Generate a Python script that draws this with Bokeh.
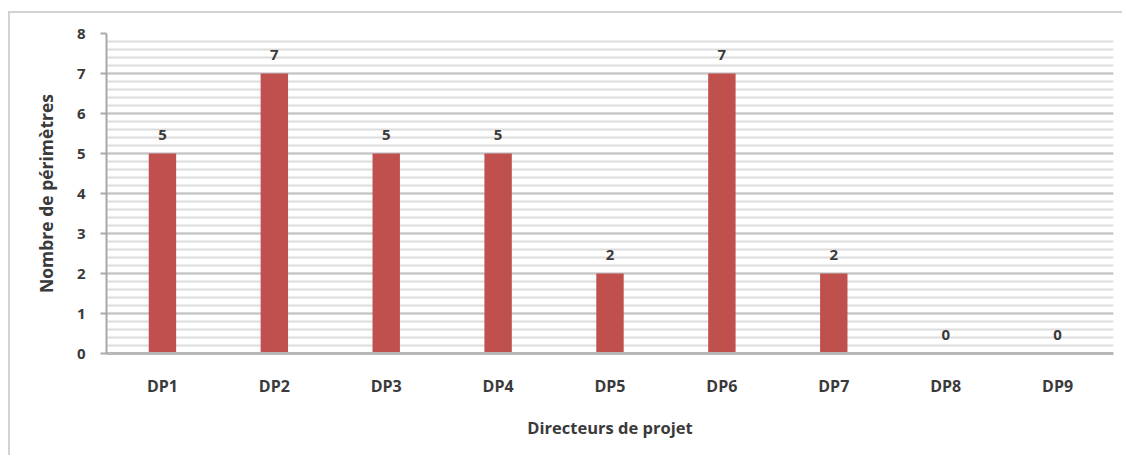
from bokeh.plotting import figure
from bokeh.models import ColumnDataSource, Range1d, SingleIntervalTicker, LabelSet
from bokeh.core.properties import value
from bokeh.embed import file_html
from bokeh.resources import INLINE

# Nombre de périmètres par directeur de projet
directeurs = ["DP1", "DP2", "DP3", "DP4", "DP5", "DP6", "DP7", "DP8", "DP9"]
perimetres = [5, 7, 5, 5, 2, 7, 2, 0, 0]
y_ticks = [0, 1, 2, 3, 4, 5, 6, 7, 8]

FONT = "Open Sans"
TXT = "#3a3a3a"
BAR = "#C0504D"

src = ColumnDataSource(dict(x=directeurs, y=perimetres, lbl=[str(v) for v in perimetres]))

p = figure(
    width=1114, height=444,
    x_range=directeurs, y_range=Range1d(0, 8),
    output_backend="svg", toolbar_location=None,
    min_border_left=96, min_border_right=11,
    min_border_top=20, min_border_bottom=104,
    background_fill_color="white", border_fill_color="white",
    margin=(11, 0, 0, 8),
    styles={"border-left": "2px solid #d2d2d2", "border-top": "2px solid #d2d2d2"},
)
p.outline_line_color = None
p.x_range.range_padding = 0

p.vbar(x="x", top="y", width=0.245, source=src, color=BAR, line_color=None)

labels = LabelSet(x="x", y="y", text="lbl", source=src, y_offset=14,
                  text_align="center", text_baseline="bottom",
                  text_font=value(FONT), text_font_size="15px",
                  text_font_style="bold", text_color=TXT)
p.add_layout(labels)

# y axis
p.yaxis.ticker = SingleIntervalTicker(interval=1, num_minor_ticks=5)
p.yaxis.major_label_overrides = {v: str(v) for v in y_ticks}
p.yaxis.axis_line_color = "#a8a8a8"
p.yaxis.axis_line_width = 2
p.yaxis.major_tick_line_color = "#a8a8a8"
p.yaxis.major_tick_line_width = 2
p.yaxis.major_tick_out = 6
p.yaxis.major_tick_in = 0
p.yaxis.minor_tick_line_color = None
p.yaxis.major_label_standoff = 15
p.yaxis.major_label_text_font = FONT
p.yaxis.major_label_text_font_size = "15px"
p.yaxis.major_label_text_font_style = "bold"
p.yaxis.major_label_text_color = TXT
p.yaxis.axis_label = "Nombre de périmètres"
p.yaxis.axis_label_text_font = FONT
p.yaxis.axis_label_text_font_size = "17.5px"
p.yaxis.axis_label_text_font_style = "bold"
p.yaxis.axis_label_text_color = TXT
p.yaxis.axis_label_standoff = 16

# x axis
p.xaxis.axis_line_color = "#b8b8b8"
p.xaxis.axis_line_width = 3
p.xaxis.major_tick_line_color = None
p.xaxis.minor_tick_line_color = None
p.xaxis.major_label_standoff = 15
p.xaxis.major_label_text_font = FONT
p.xaxis.major_label_text_font_size = "16px"
p.xaxis.major_label_text_font_style = "bold"
p.xaxis.major_label_text_color = TXT
p.xaxis.axis_label = "Directeurs de projet"
p.xaxis.axis_label_text_font = FONT
p.xaxis.axis_label_text_font_size = "16.5px"
p.xaxis.axis_label_text_font_style = "bold"
p.xaxis.axis_label_text_color = TXT
p.xaxis.axis_label_standoff = 16

# grid
p.xgrid.grid_line_color = None
p.ygrid.grid_line_color = "#c4c4c4"
p.ygrid.grid_line_width = 2
p.ygrid.minor_grid_line_color = "#dcdcdc"
p.ygrid.minor_grid_line_width = 2

open("out.html", "w").write(file_html(p, INLINE))
